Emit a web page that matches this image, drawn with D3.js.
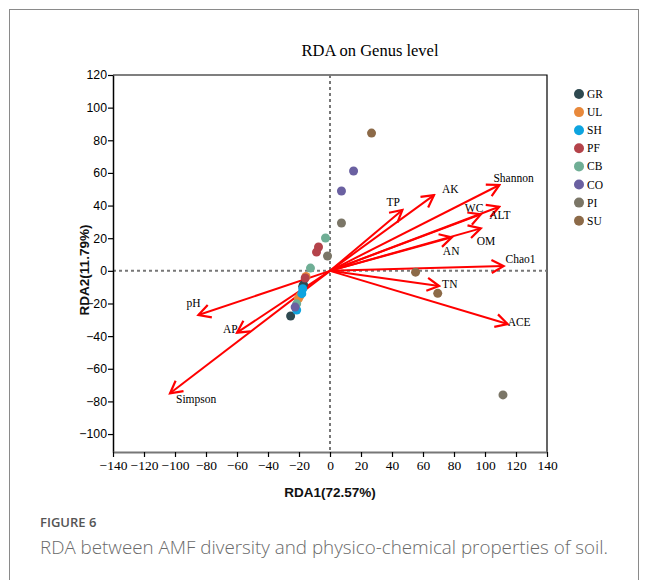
<!DOCTYPE html>
<html><head><meta charset="utf-8">
<script src="https://cdn.jsdelivr.net/npm/d3@7"></script>
<style>body{margin:0;background:#fff}svg{display:block}</style>
</head><body>
<svg id="c" width="648" height="580"></svg>
<script>
// ---- data ----
const groups = ["GR","UL","SH","PF","CB","CO","PI","SU"];
const groupColors = ["#2e4950","#e8893b","#0ea4df","#b4434a","#6fae95","#6a60a1","#7b7667","#8c6a48"];
const GR = [[-17.1,-8.5],[-25.4,-27.7],[-17.6,-9.5]];
const UL = [[-15.5,-3.5],[-20.4,-17.1],[-19.5,-15.5]];
const SH = [[-17.6,-11.0],[-18.2,-14.0],[-21.5,-24.0]];
const PF = [[-7.4,14.6],[-8.7,11.5],[-16.0,-4.4]];
const CB = [[-2.9,20.1],[-12.6,1.7],[-21.5,-20.2]];
const CO = [[15.2,61.2],[7.4,48.9],[-22.5,-22.2]];
const PI = [[7.4,29.3],[-1.6,9.1],[111.6,-76.0]];
const SU = [[26.8,84.4],[55.2,-0.8],[69.5,-13.8]];
const groupPoints = [GR,UL,SH,PF,CB,CO,PI,SU];

const envNames = ["Shannon","AK","TP","ALT","WC","OM","AN","Chao1","TN","ACE","pH","AP","Simpson"];
const envX = [109.3, 67.1, 46.7, 109.2, 97.3, 97.3, 78.6, 112.0, 70.4, 114.6, -84.9, -60.0, -103.2];
const envY = [52.6, 46.4, 37.3, 39.3, 34.6, 26.0, 20.5, 2.9, -9.3, -32.6, -27.1, -37.9, -75.0];

const xTicks = [-140,-120,-100,-80,-60,-40,-20,0,20,40,60,80,100,120,140];
const yTicks = [120,100,80,60,40,20,0,-20,-40,-60,-80,-100];

// ---- layout ----
const svg = d3.select("#c");
const L = 113, R = 547, T = 75, B = 452;
const x = d3.scaleLinear().domain([-140,140]).range([L,R]);
const y = d3.scaleLinear().domain([-111,120]).range([B,T]);

// card border
svg.append("rect").attr("x",9.5).attr("y",9.5).attr("width",629).attr("height",600)
  .attr("fill","none").attr("stroke","#8a8a8a").attr("stroke-width",1);

// title
svg.append("text").attr("x",370).attr("y",56).attr("text-anchor","middle")
  .attr("font-family","Liberation Serif").attr("font-size",16.5).attr("fill","#000")
  .text("RDA on Genus level");

// frame top & right
svg.append("path").attr("d",`M${L},${T}H${R}V${B}`).attr("fill","none").attr("stroke","#000").attr("stroke-width",1.2);

// dashed zero lines
svg.append("line").attr("x1",x(0)).attr("x2",x(0)).attr("y1",T).attr("y2",B)
  .attr("stroke","#777").attr("stroke-width",2).attr("stroke-dasharray","3,3");
svg.append("line").attr("x1",L).attr("x2",R).attr("y1",y(0)).attr("y2",y(0))
  .attr("stroke","#777").attr("stroke-width",2).attr("stroke-dasharray","3,3");

// y axis
const yAxis = svg.append("g").attr("transform",`translate(${L},0)`)
  .call(d3.axisLeft(y).tickValues(yTicks).tickSize(5).tickSizeOuter(0).tickFormat(d3.format("d")));
yAxis.select(".domain").attr("stroke","#000").attr("stroke-width",1.5);
yAxis.selectAll(".tick line").attr("stroke","#000").attr("stroke-width",1.2);
yAxis.selectAll(".tick text").attr("font-family","Liberation Sans").attr("font-size",12.3).attr("fill","#000").attr("x",-6);

// x axis
const xAxis = svg.append("g").attr("transform",`translate(0,${B})`)
  .call(d3.axisBottom(x).tickValues(xTicks).tickSize(5).tickSizeOuter(0).tickFormat(d3.format("d")));
xAxis.select(".domain").attr("stroke","#777").attr("stroke-width",2);
xAxis.selectAll(".tick line").attr("stroke","#000").attr("stroke-width",1.2);
xAxis.selectAll(".tick text").attr("font-family","Liberation Serif").attr("font-size",13.5).attr("fill","#000").attr("y",8);

// axis titles
svg.append("text").attr("x",330).attr("y",497).attr("text-anchor","middle")
  .attr("font-family","Liberation Sans").attr("font-weight","bold").attr("font-size",13.5).attr("fill","#111")
  .text("RDA1(72.57%)");
svg.append("text").attr("transform","translate(89,270) rotate(-90)").attr("text-anchor","middle")
  .attr("font-family","Liberation Sans").attr("font-weight","bold").attr("font-size",13.5).attr("fill","#111")
  .text("RDA2(11.79%)");

// arrows
const defs = svg.append("defs");
defs.append("marker").attr("id","ah").attr("viewBox","-14 -8 16 16").attr("refX",0).attr("refY",0)
  .attr("markerWidth",16).attr("markerHeight",16).attr("markerUnits","userSpaceOnUse").attr("orient","auto")
  .append("path").attr("d","M-12,-6.5L0,0L-12,6.5").attr("fill","none").attr("stroke","#f00").attr("stroke-width",2.2);

const env = envNames.map((n,i)=>({n, vx:envX[i], vy:envY[i]}));
svg.append("g").selectAll("line").data(env).join("line")
  .attr("x1",x(0)).attr("y1",y(0)).attr("x2",d=>x(d.vx)).attr("y2",d=>y(d.vy))
  .attr("stroke","#f00").attr("stroke-width",2).attr("marker-end","url(#ah)");

// arrow labels (offsets from tip in px)
const labelOff = {Shannon:[-6,-3],AK:[8,-2],TP:[-16,-4],ALT:[-10,12],
  WC:[-16,-2],OM:[-4,17],AN:[-9,18],Chao1:[2,-3],TN:[3,2],
  ACE:[0,2],pH:[-12,-8],AP:[-14,0],Simpson:[6,10]};
svg.append("g").selectAll("text").data(env).join("text")
  .attr("x",d=>x(d.vx)+labelOff[d.n][0]).attr("y",d=>y(d.vy)+labelOff[d.n][1])
  .attr("font-family","Liberation Serif").attr("font-size",11.5).attr("fill","#000").text(d=>d.n);

// points
const pts = [];
groupPoints.forEach((arr,gi)=>arr.forEach(p=>pts.push({g:gi,px:p[0],py:p[1]})));
svg.append("g").selectAll("circle").data(pts).join("circle")
  .attr("cx",d=>x(d.px)).attr("cy",d=>y(d.py)).attr("r",4.5).attr("fill",d=>groupColors[d.g]);

// legend
const lg = svg.append("g");
groups.forEach((g,i)=>{
  const yy = 94 + i*18.1;
  lg.append("circle").attr("cx",579).attr("cy",yy).attr("r",5).attr("fill",groupColors[i]);
  lg.append("text").attr("x",587).attr("y",yy+4).attr("font-family","Liberation Serif").attr("font-size",11.5)
    .attr("fill","#000").text(g);
});

// caption
svg.append("text").attr("x",40).attr("y",527).attr("font-family","Open Sans").attr("font-size",13)
  .attr("font-weight",600).attr("fill","#555").text("FIGURE 6");
svg.append("text").attr("x",40).attr("y",554).attr("font-family","Open Sans").attr("font-size",18.8)
  .attr("font-weight",300).attr("fill","#6a6a6a").text("RDA between AMF diversity and physico-chemical properties of soil.");
</script>
</body></html>
